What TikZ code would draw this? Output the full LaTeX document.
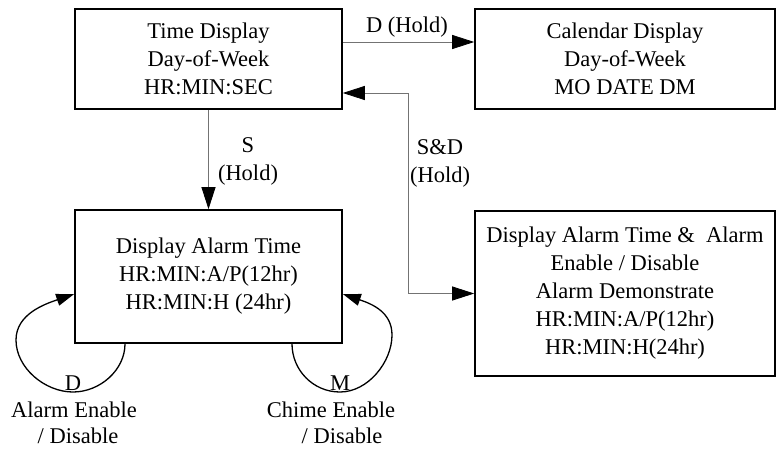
\documentclass[tikz,border=0pt]{standalone}
\usepackage{fontspec}
\setmainfont{Liberation Serif}
\usetikzlibrary{arrows.meta}
\tikzset{
  box/.style={draw, line width=1.6pt, align=center, inner sep=0pt},
  conn/.style={draw=black!55, line width=0.8pt},
  tipend/.style={-{Triangle[length=22pt,width=14pt,color=black]}},
  tipboth/.style={{Triangle[length=22pt,width=14pt,color=black]}-{Triangle[length=22pt,width=14pt,color=black]}},
  loopline/.style={draw, line width=1.3pt, -{Triangle[length=18pt,width=12pt]}},
  lbl/.style={align=center, inner sep=0pt},
  bl/.style={inner sep=0pt, anchor=base},
}
\begin{document}
\begin{tikzpicture}[x=1pt,y=-1pt, font=\fontsize{22.5}{28}\selectfont]
\useasboundingbox (0,0) rectangle (779,448);
\node[box, minimum width=267pt, minimum height=100pt] (A) at (208.5,59) {Time Display\\Day-of-Week\\HR:MIN:SEC};
\node[box, minimum width=300pt, minimum height=100pt] (B) at (625,59) {Calendar Display\\Day-of-Week\\MO DATE DM};
\node[box, minimum width=267pt, minimum height=133pt] (C) at (208.5,276.5) {Display Alarm Time\\HR:MIN:A/P(12hr)\\HR:MIN:H (24hr)};
\node[box, minimum width=300pt, minimum height=165pt] (D) at (625,293.5) {Display Alarm Time \&\ \ Alarm\\Enable / Disable\\Alarm Demonstrate\\HR:MIN:A/P(12hr)\\HR:MIN:H(24hr)};

% connectors
\draw[conn,tipend] ([yshift=17pt]A.east) -- ([yshift=17pt]B.west);
\draw[conn,tipend] (A.south) -- (C.north);
\coordinate (bend) at (408,93);
\draw[conn,tipboth] (D.west) -| (bend) -- (A.east |- bend);

% labels
\node[lbl] (lDH) at (407,27) {D (Hold)};
\node[lbl] (lS) at (248,161) {S\\(Hold)};
\node[lbl] (lSD) at (440,163) {S\&D\\(Hold)};

% self loops
\coordinate (l1s) at ([xshift=-83.5pt]C.south);
\coordinate (l1e) at ([yshift=-17.5pt]C.west);
\draw[loopline] (l1s) .. controls (125,370) and (100,392) .. (73,392)
   .. controls (45,392) and (16,368) .. (16,340)
   .. controls (16,314) and (45,304) .. (l1e);
\coordinate (l2s) at ([xshift=83.5pt]C.south);
\coordinate (l2e) at ([yshift=-17.5pt]C.east);
\draw[loopline] (l2s) .. controls (292,370) and (313,392) .. (340,392)
   .. controls (368,392) and (392,362) .. (392,335)
   .. controls (392,312) and (372,304) .. (l2e);

\node[bl] (lD) at (73,390) {D};
\node[bl] (lM) at (340,390) {M};
\node[bl] (lAE1) at (74,417) {Alarm Enable};
\node[bl] (lAE2) at (78,443) {/ Disable};
\node[bl] (lCE1) at (331,417) {Chime Enable};
\node[bl] (lCE2) at (342,443) {/ Disable};
\end{tikzpicture}
\end{document}
